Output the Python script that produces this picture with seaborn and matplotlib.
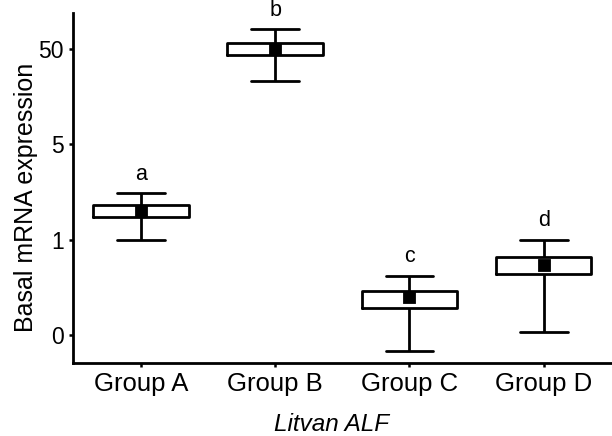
import pandas as pd
import matplotlib
matplotlib.use("Agg")
import matplotlib.pyplot as plt
import seaborn as sns

# values on the plotted (equal-step) scale: 0, 1, 5, 50 sit at 0, 1, 2, 3
groups = ["Group A", "Group B", "Group C", "Group D"]
whisker_low = [0.997, 2.665, -0.168, 0.028]
box_low = [1.241, 2.938, 0.286, 0.637]
means = [1.304, 2.998, 0.396, 0.735]
box_high = [1.364, 3.067, 0.462, 0.815]
whisker_high = [1.487, 3.208, 0.622, 0.997]
letters = ["a", "b", "c", "d"]
tick_values = [0, 1, 2, 3]
tick_labels = ["0", "1", "5", "50"]


def build_frame():
    """Five-number summary per group as long-form rows."""
    rows = []
    for i, g in enumerate(groups):
        for v in (whisker_low[i], box_low[i], means[i], box_high[i], whisker_high[i]):
            rows.append({"group": g, "value": v})
    return pd.DataFrame(rows)


def plot_expression(df):
    sns.set_theme(style="ticks")
    plt.rcParams["font.family"] = ["Liberation Sans", "DejaVu Sans"]

    fig = plt.figure(figsize=(6.12, 4.36), dpi=100)
    ax = fig.add_axes([0.1193, 0.1674, 0.8790, 0.8026])

    sns.boxplot(data=df, x="group", y="value", order=groups, whis=(0, 100),
                width=0.71, fill=False, color="black", linewidth=2.0,
                medianprops={"visible": False}, ax=ax)
    sns.pointplot(x=groups, y=means, order=groups, markers="s", linestyle="none",
                  color="black", markersize=7, errorbar=None, ax=ax)

    for i, lab in enumerate(letters):
        ax.text(i, whisker_high[i] + 0.09, lab, ha="center", va="bottom",
                fontsize=15.5, color="black")

    ax.set_xlim(-0.505, 3.5)
    ax.set_ylim(-0.294, 3.379)
    ax.set_yticks(tick_values)
    ax.set_yticklabels(tick_labels)
    ax.set_xlabel("Litvan ALF", fontsize=17.5, style="italic", color="black",
                  labelpad=12)
    ax.xaxis.label.set_x(0.48)
    ax.set_ylabel("Basal mRNA expression", fontsize=18, color="black", labelpad=0)
    ax.yaxis.label.set_y(0.474)
    ax.tick_params(axis="x", labelsize=18.5, length=3, width=1.8, colors="black")
    ax.tick_params(axis="y", labelsize=16.5, length=3, width=1.8, colors="black")
    for side in ("left", "bottom"):
        ax.spines[side].set_linewidth(2.0)
        ax.spines[side].set_color("black")
    sns.despine(ax=ax)

    fig.savefig("out.png", dpi=100)


if __name__ == "__main__":
    plot_expression(build_frame())
